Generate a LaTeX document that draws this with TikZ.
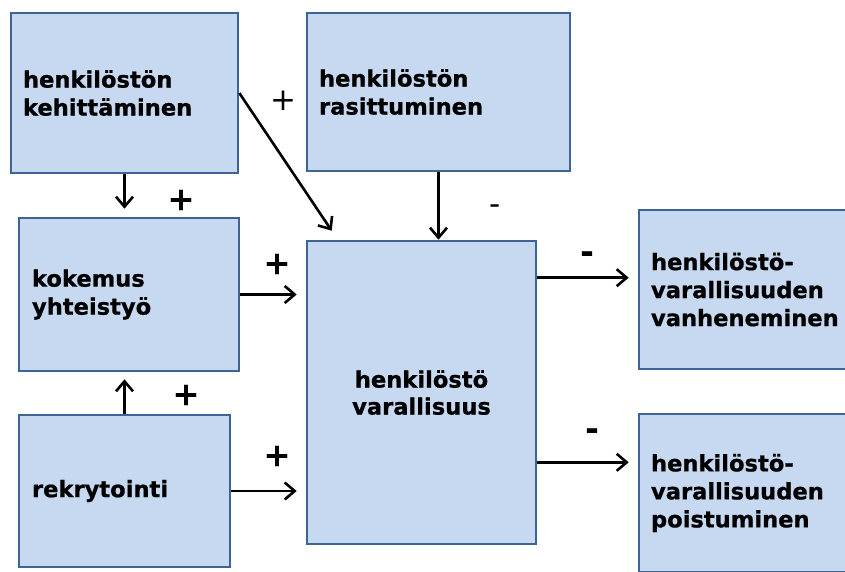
\documentclass[tikz,border=0pt]{standalone}
\usepackage{fontspec}
\setmainfont{DejaVu Sans}[BoldFeatures={FakeBold=0.8}]
\usetikzlibrary{arrows.meta}
\definecolor{boxfill}{HTML}{C6D9F1}
\definecolor{boxdraw}{HTML}{3F6494}
\tikzset{
  box/.style={draw=boxdraw, fill=boxfill, line width=2.6pt, inner xsep=12pt, inner ysep=0pt,
    font=\fontsize{22.6}{28}\selectfont\bfseries, align=left},
  arr/.style={line width=2.6pt, -{Straight Barb[length=10pt,width=17pt]}},
  sgnb/.style={font=\fontsize{32}{32}\selectfont\bfseries, inner sep=0pt},
  sgnt/.style={font=\fontsize{31}{31}\selectfont, inner sep=0pt},
}
\begin{document}
\begin{tikzpicture}[x=1pt,y=1pt]
\useasboundingbox (0,0) rectangle (845,571);
\node[box, minimum width=227pt, minimum height=160pt, text width=203pt] (b1) at (124.5,478) {henkilöstön\\kehittäminen};
\node[box, minimum width=263pt, minimum height=158pt, text width=239pt] (b2) at (438.5,479) {henkilöstön\\rasittuminen};
\node[box, minimum width=220pt, minimum height=153pt, text width=194pt, inner xsep=13pt] (b3) at (129,276.5) {kokemus\\yhteistyö};
\node[box, minimum width=211pt, minimum height=152pt, text width=185pt, inner xsep=13pt] (b4) at (124.5,80) {rekrytointi};
\node[box, minimum width=229pt, minimum height=303pt, text width=205pt, align=center, font=\fontsize{22.6}{27}\selectfont\bfseries] (b5) at (421.5,178.5) {henkilöstö\\varallisuus};
\node[box, minimum width=211pt, minimum height=159pt, text width=187pt] (b6) at (744.5,281.5) {henkilöstö-\\varallisuuden\\vanheneminen};
\node[box, minimum width=211pt, minimum height=158pt, text width=187pt] (b7) at (744.5,78) {henkilöstö-\\varallisuuden\\poistuminen};

\draw[arr] (b1.south) -- ([yshift=8pt]b1.south |- b3.north);
\draw[arr] (b1.east) -- ([xshift=26pt,yshift=9pt]b5.north west);
\draw[arr] (b2.south) -- (b2.south |- b5.north);
\draw[arr] (b3.east) -- ([xshift=-9pt]b5.west |- b3.east);
\draw[arr] (b4.north) -- ([yshift=-7pt]b4.north |- b3.south);
\draw[arr] (b4.east) -- ([xshift=-9pt]b5.west |- b4.east);
\draw[arr] ([yshift=-38pt]b5.north east) coordinate (s1) -- ([xshift=-9pt]b6.west |- s1);
\draw[arr] ([yshift=83pt]b5.south east) coordinate (s2) -- ([xshift=-9pt]b7.west |- s2);

\node[sgnb] (p1) at (181,371) {+};
\node[sgnt] (p2) at (283,470) {+};
\node[sgnb] (p3) at (277,307) {+};
\node[sgnb] (p4) at (186,176) {+};
\node[sgnb] (p5) at (277,115) {+};
\node[sgnt] (m1) at (495,361) {-};
\node[sgnb] (m2) at (587,314) {-};
\node[sgnb] (m3) at (592,137) {-};
\end{tikzpicture}
\end{document}
